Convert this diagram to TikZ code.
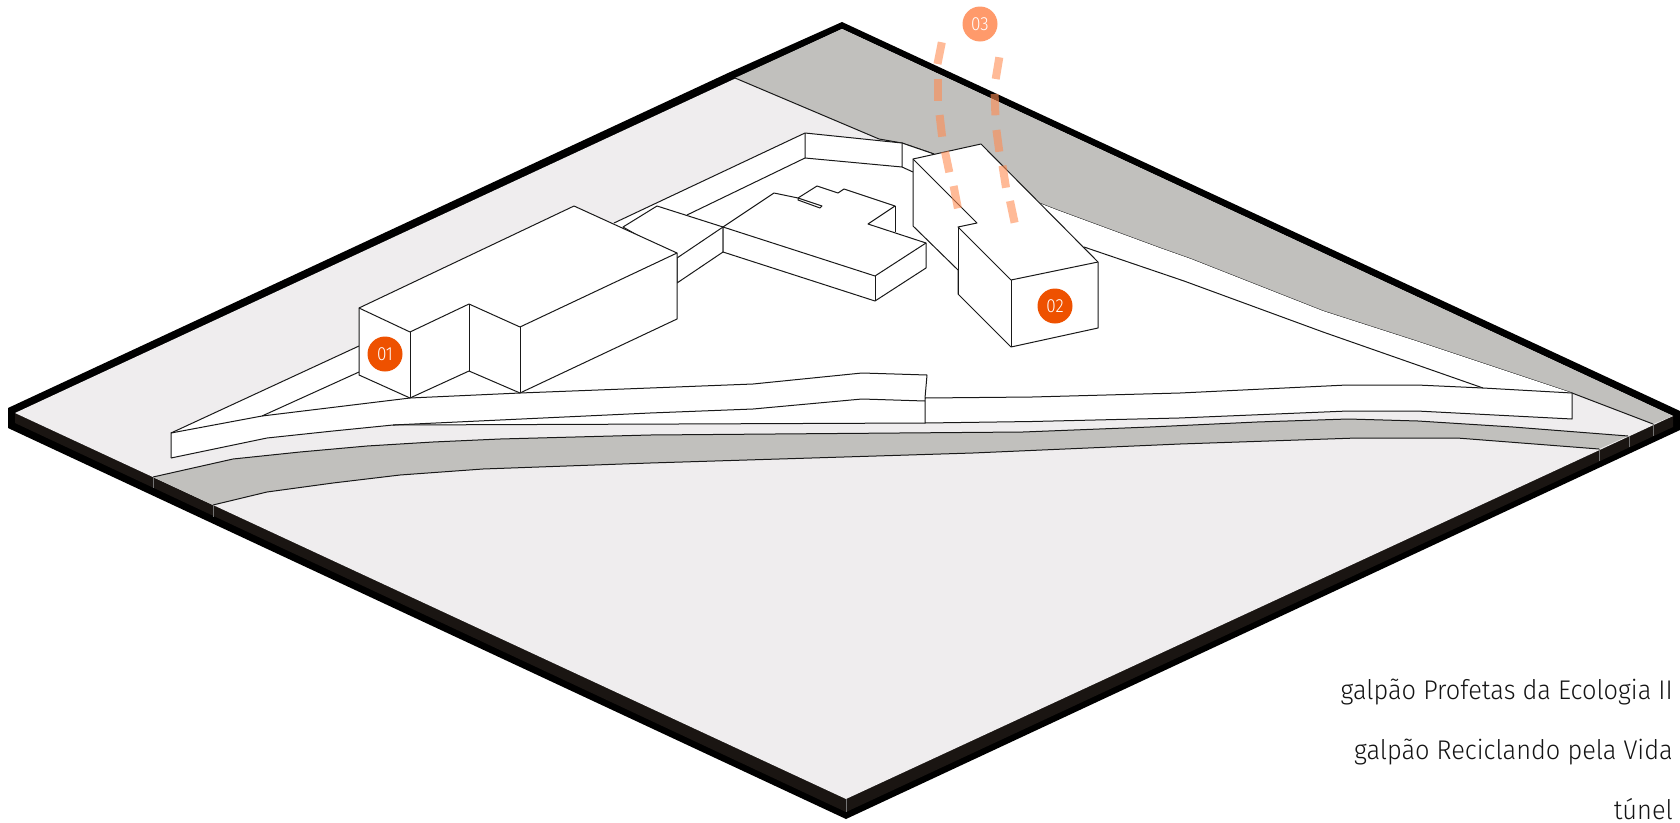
\documentclass[tikz,border=0pt]{standalone}
\usepackage{fontspec}
\setmainfont{Fira Sans}[UprightFont=* Light]
\newfontfamily\legendfont{Fira Sans}[UprightFont=* Light,FakeStretch=0.94]
\newfontfamily\badgefont{Fira Sans}[UprightFont=* Light,FakeStretch=0.9]
\definecolor{plate}{HTML}{EFEDEE}
\definecolor{band}{HTML}{C1C0BD}
\definecolor{sidec}{HTML}{1A1512}
\definecolor{badge}{HTML}{EE5100}
\definecolor{badgelt}{HTML}{FF9A6B}
\definecolor{tunnelc}{HTML}{FF8C52}
\tikzset{
  outl/.style={draw=black!90,line width=1pt,line join=round},
  solid white/.style={outl,fill=white},
  tick/.style={draw=black!55,line width=0.7pt},
  badgenode/.style={circle,minimum size=35pt,inner sep=0pt,text=white,font=\badgefont\fontsize{19}{19}\selectfont},
  legend/.style={anchor=base east,inner sep=0pt,text=black!92,font=\legendfont\fontsize{27}{27}\selectfont},
  tunneldash/.style={draw=tunnelc,opacity=0.6,line width=8pt}
}
\begin{document}
\begin{tikzpicture}[x=1pt,y=-1pt]
\useasboundingbox (0,0) rectangle (1680,822);
% plate body
\fill[black] (842,22) -- (1680,411) -- (1680,430) -- (846,819) -- (8,428) -- (8,408) -- (728,73) -- cycle;
\fill[sidec] (15,413) -- (846,799) -- (1673,416) -- (1673,427) -- (846,812) -- (15,423) -- cycle;
\fill[plate] (842,29) -- (1673,416) -- (846,799) -- (15,413) -- cycle;
% back grey area
\fill[band] (735,78) -- (842,29) -- (1673,416) -- (1653,424) -- (1572,393) -- (1413,340) -- (1323,311) -- (1191,259) -- (1160,248) -- (1057,210) -- (1039,203) -- (934,154) -- (902,143) -- (879,139) -- cycle;
\draw[outl] (735,78) -- (879,139) -- (902,143) -- (934,154);
\draw[outl] (1039,203) -- (1057,210) -- (1160,248) -- (1191,259) -- (1323,311) -- (1413,340) -- (1572,393) -- (1653,424);
% road band
\fill[band] (153,477) -- (233,459) -- (300,452) -- (367,446) -- (433,442) -- (500,439) -- (650,435) -- (1023,432) -- (1150,427) -- (1257,422) -- (1348,419) -- (1418,421) -- (1513,427) -- (1628,436)
  -- (1599,449) -- (1457,438) -- (1357,438) -- (1180,444) -- (973,453) -- (650,463) -- (483,469) -- (400,475) -- (333,483) -- (267,492) -- (213,505) -- cycle;
\draw[outl] (153,477) -- (233,459) -- (300,452) -- (367,446) -- (433,442) -- (500,439) -- (650,435) -- (1023,432) -- (1150,427) -- (1257,422) -- (1348,419) -- (1418,421) -- (1513,427) -- (1628,436);
\draw[outl] (1599,449) -- (1457,438) -- (1357,438) -- (1180,444) -- (973,453) -- (650,463) -- (483,469) -- (400,475) -- (333,483) -- (267,492) -- (213,505);
% side ticks
\draw[tick] (153,477) -- (153,488);
\draw[tick] (213,505) -- (213,517);
\draw[tick] (846,799) -- (846,812);
\draw[tick] (1599,449) -- (1599,461);
\draw[tick] (1629,436) -- (1629,447);
\draw[tick] (1653,424) -- (1653,436);
% white site
\fill[white] (171,433) -- (359,346) -- (614,223) -- (805,133) -- (902,143) -- (934,154) -- (1039,203) -- (1057,210) -- (1160,248) -- (1191,259) -- (1323,311) -- (1413,340) -- (1572,393)
  -- (1572,419) -- (1417,411) -- (1348,411) -- (1179,418) -- (1032,421.5) -- (925,423) -- (677,424) -- (393,425) -- (333,431) -- (267,438) -- (171,458) -- cycle;
% wall outlines
\draw[outl] (171,458) -- (171,433) -- (359,346);
\draw[outl] (614,223) -- (805,133) -- (902,143) -- (934,154);
\draw[outl] (171,433) -- (262,416) -- (410,398) -- (520,393) -- (650,388) -- (753,384) -- (862,373) -- (927,375) -- (925,398) -- (1032,397) -- (1180,393) -- (1347,385) -- (1417,385) -- (1483,388) -- (1572,393) -- (1572,419) -- (1417,411) -- (1348,411) -- (1179,418) -- (1032,421.5) -- (925,423) -- (925,398);
\draw[outl] (171,458) -- (267,438) -- (333,431) -- (393,425) -- (500,420) -- (650,413) -- (753,409) -- (862,399) -- (925,401);
\draw[outl] (393,425) -- (677,424) -- (925,423);
\draw[outl] (262,416) -- (359,372);
% back wall
\draw[outl] (805,133) -- (805,158) -- (902,167) -- (902,143);
\draw[outl] (805,158) -- (687,215);
\draw[outl] (902,167) -- (913,172);
% inner right line
\draw[outl] (1084,247) -- (1184,281) -- (1323,332) -- (1483,388);
% connector block
\draw[solid white] (623,227) -- (657,206) -- (723,227) -- (723,252) -- (677,283) -- (677,258) -- cycle;
\draw[outl] (723,227) -- (677,258);
% middle block
\draw[solid white] (723,227) -- (774,193) -- (798,198) -- (817,186) -- (838,193) -- (844,189) -- (895,206) -- (868,224) -- (926,243) -- (926,268) -- (875,301) -- (723,252) -- cycle;
\draw[outl] (723,227) -- (875,276) -- (926,243);
\draw[outl] (875,276) -- (875,301);
\draw[outl] (895,206) -- (895,232);
\draw[outl] (798,198) -- (822,206) -- (820,208) -- (798,200) -- cycle;
% building 02
\draw[solid white] (913,159) -- (981,144) -- (1098,262) -- (1098,328) -- (1011,347) -- (958,294) -- (958,270) -- (913,226) -- cycle;
\draw[outl] (913,159) -- (977,223) -- (958,227) -- (1011,280) -- (1098,262);
\draw[outl] (958,227) -- (958,294);
\draw[outl] (1011,280) -- (1011,347);
% building 01
\draw[solid white] (574,206) -- (677,253) -- (677,319) -- (520,393) -- (469,371) -- (410,398) -- (359,375) -- (359,308) -- cycle;
\draw[outl] (677,253) -- (520,327) -- (469,304) -- (410,332) -- (359,308);
\draw[outl] (410,332) -- (410,398);
\draw[outl] (469,304) -- (469,371);
\draw[outl] (520,327) -- (520,393);
% tunnel dashes
\draw[tunneldash] (941.8,42.3) -- (937.5,64);
\draw[tunneldash] (938.2,79) -- (938.2,100.7);
\draw[tunneldash] (939.6,115) -- (942.1,136.7);
\draw[tunneldash] (945,151.7) -- (949.3,172.3);
\draw[tunneldash] (953.6,186) -- (957.9,208.3);
\draw[tunneldash] (999.3,57.3) -- (995.7,79);
\draw[tunneldash] (994.6,94) -- (995.4,115.3);
\draw[tunneldash] (996.4,130) -- (999.3,151.7);
\draw[tunneldash] (1002.5,165.7) -- (1006,187.7);
\draw[tunneldash] (1010,201) -- (1014.6,222.7);
% badges
\node[badgenode,fill=badge] (b1) at (385,354) {01};
\node[badgenode,fill=badge] (b2) at (1055,306) {02};
\node[badgenode,fill=badgelt] (b3) at (980,24) {03};
% legend
\node[legend] (l1) at (1673,699) {galpão Profetas da Ecologia II};
\node[legend] (l2) at (1673,759) {galpão Reciclando pela Vida};
\node[legend] (l3) at (1673,819) {túnel};
\end{tikzpicture}
\end{document}
